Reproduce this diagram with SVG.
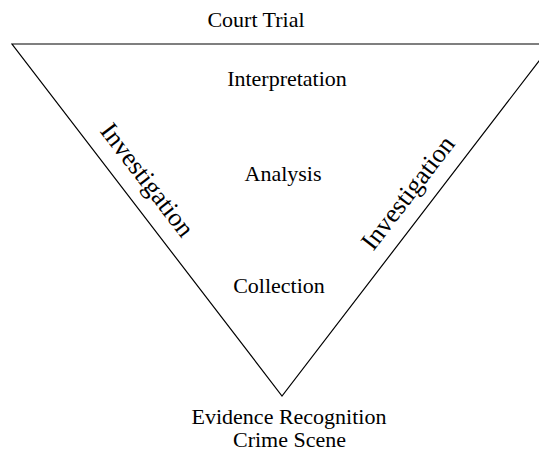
<svg xmlns="http://www.w3.org/2000/svg" width="539" height="457" viewBox="0 0 539 457">
  <style>
    .t { font-family: "Liberation Serif", "Times New Roman", serif; font-size: 22px; fill: #000; text-anchor: middle; }
    .side { font-size: 26px; }
    .edge { fill: none; stroke: #000; stroke-width: 1.2; }
  </style>
  <rect width="539" height="457" fill="#fff"/>
  <g id="connectors">
    <polygon class="edge" points="12,44 552,44 282,396"/>
  </g>
  <g id="court-trial"><text class="t" x="256" y="27">Court Trial</text></g>
  <g id="interpretation"><text class="t" x="287" y="86">Interpretation</text></g>
  <g id="analysis"><text class="t" x="283" y="181">Analysis</text></g>
  <g id="collection"><text class="t" x="279" y="293">Collection</text></g>
  <g id="evidence">
    <text class="t" x="289" y="424">Evidence Recognition</text>
    <text class="t" x="289.5" y="447">Crime Scene</text>
  </g>
  <g id="investigation-left"><text class="t side" transform="translate(140.5,185) rotate(52.5)">Investigation</text></g>
  <g id="investigation-right"><text class="t side" transform="translate(414.5,198) rotate(-52.5)">Investigation</text></g>
</svg>
